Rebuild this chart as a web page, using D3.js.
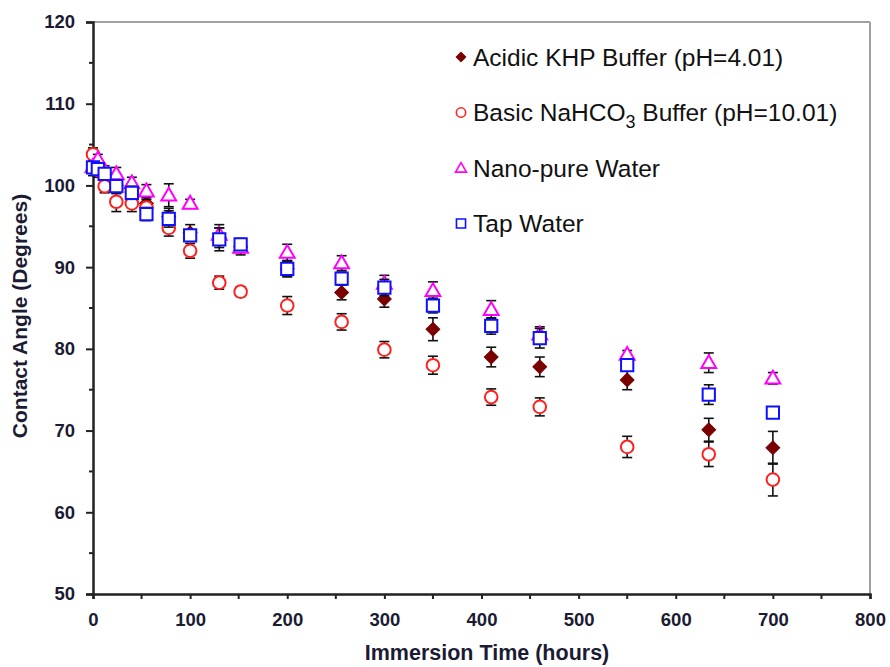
<!DOCTYPE html>
<html>
<head>
<meta charset="utf-8">
<script src="https://cdn.jsdelivr.net/npm/d3@7"></script>
<style>
  html, body { margin: 0; padding: 0; background: #fff; }
  svg { display: block; font-family: "Liberation Sans", Arial, sans-serif; }
</style>
</head>
<body>
<svg id="chart" width="890" height="667"></svg>
<script>
// ---------------- data ----------------
const seriesNames = ["Acidic KHP Buffer (pH=4.01)", "Basic NaHCO3 Buffer (pH=10.01)", "Nano-pure Water", "Tap Water"];

const acidicTimes  = [0, 5, 12, 24, 40, 55, 78, 100, 130, 152, 200, 256, 300, 350, 410, 460, 550, 634, 700];
const acidicValues = [102.0, 101.8, 101.2, 100.0, 99.2, 97.8, 96.2, 94.2, 93.6, 92.5, 89.8, 86.9, 86.1, 82.4, 79.0, 77.8, 76.2, 70.1, 67.9];
const acidicErrors = [0.8, 0.8, 0.9, 1.0, 1.0, 1.2, 1.0, 1.0, 1.2, 1.0, 1.0, 0.9, 1.0, 1.4, 1.2, 1.2, 1.2, 1.4, 2.0];

const basicTimes  = [0, 12, 24, 40, 55, 78, 100, 130, 152, 200, 256, 300, 350, 410, 460, 550, 634, 700];
const basicValues = [103.8, 99.9, 98.0, 97.8, 97.3, 94.8, 92.0, 88.1, 87.0, 85.3, 83.3, 79.9, 78.0, 74.1, 72.9, 68.0, 67.1, 64.0];
const basicErrors = [0.8, 0.8, 1.2, 1.0, 1.0, 1.0, 0.9, 0.8, 0.6, 1.1, 1.0, 1.0, 1.1, 1.0, 1.1, 1.3, 1.5, 2.0];

const nanoTimes  = [0, 5, 12, 24, 40, 55, 78, 100, 130, 152, 200, 256, 300, 350, 410, 460, 550, 634, 700];
const nanoValues = [102.3, 103.2, 101.8, 101.4, 100.3, 99.3, 98.8, 97.8, 94.0, 92.4, 91.8, 90.5, 88.0, 87.1, 84.8, 81.8, 79.3, 78.3, 76.4];
const nanoErrors = [0.6, 0.6, 0.6, 0.8, 0.7, 0.8, 1.4, 0.5, 1.2, 0.6, 1.0, 0.9, 1.0, 1.1, 1.1, 0.9, 0.5, 1.2, 0.7];

const tapTimes  = [0, 5, 12, 24, 40, 55, 78, 100, 130, 152, 200, 256, 300, 350, 410, 460, 550, 634, 700];
const tapValues = [102.2, 102.0, 101.4, 99.9, 99.1, 96.5, 95.9, 93.9, 93.4, 92.8, 89.8, 88.6, 87.5, 85.3, 82.8, 81.3, 78.0, 74.4, 72.2];
const tapErrors = [0.5, 0.5, 0.6, 0.8, 0.8, 0.8, 1.0, 0.6, 1.4, 0.6, 0.9, 0.8, 1.0, 0.9, 1.0, 1.2, 0.5, 1.2, 0.4];

const xTickValues = [0, 100, 200, 300, 400, 500, 600, 700, 800];
const xMinorTicks = [50, 150, 250, 350, 450, 550, 650, 750];
const yTickValues = [50, 60, 70, 80, 90, 100, 110, 120];
const yMinorTicks = [55, 65, 75, 85, 95, 105, 115];

const xTitle = "Immersion Time (hours)";
const yTitle = "Contact Angle (Degrees)";

// ---------------- layout ----------------
const W = 890, H = 667;
const margin = { left: 93, top: 22, right: 20, bottom: 73 };
const svg = d3.select("#chart");

const x = d3.scaleLinear().domain([0, 800]).range([margin.left, W - margin.right]);
const y = d3.scaleLinear().domain([50, 120]).range([H - margin.bottom, margin.top]);

const tickColor = "#1b1b33";

// plot-area border (top & right grey)
svg.append("line").attr("x1", x(0)).attr("x2", x(800)).attr("y1", y(120)).attr("y2", y(120))
  .attr("stroke", "#a0a0a0").attr("stroke-width", 2);
svg.append("line").attr("x1", x(800)).attr("x2", x(800)).attr("y1", y(120)).attr("y2", y(50))
  .attr("stroke", "#a0a0a0").attr("stroke-width", 2);

// y axis
const yAxis = d3.axisLeft(y).tickValues(yTickValues).tickSize(7).tickPadding(11).tickFormat(d3.format("d"));
const gy = svg.append("g").attr("transform", `translate(${x(0)},0)`).call(yAxis);
gy.select(".domain").attr("stroke", "#222").attr("stroke-width", 2.5);
gy.selectAll(".tick line").attr("stroke", "#222").attr("stroke-width", 2);
gy.selectAll(".tick text").attr("fill", tickColor).attr("font-size", 18.5).attr("font-weight", "bold")
  .attr("font-family", "Liberation Sans, Arial, sans-serif");
svg.append("g").selectAll("line").data(yMinorTicks).join("line")
  .attr("x1", x(0) - 4).attr("x2", x(0)).attr("y1", d => y(d)).attr("y2", d => y(d))
  .attr("stroke", "#222").attr("stroke-width", 2);

// x axis
const xAxis = d3.axisBottom(x).tickValues(xTickValues).tickSize(5).tickPadding(14).tickFormat(d3.format("d"));
const gx = svg.append("g").attr("transform", `translate(0,${y(50)})`).call(xAxis);
gx.select(".domain").attr("stroke", "#222").attr("stroke-width", 2.5);
gx.selectAll(".tick line").attr("stroke", "#222").attr("stroke-width", 2);
gx.selectAll(".tick text").attr("fill", tickColor).attr("font-size", 18.5).attr("font-weight", "bold")
  .attr("font-family", "Liberation Sans, Arial, sans-serif");
svg.append("g").selectAll("line").data(xMinorTicks).join("line")
  .attr("x1", d => x(d)).attr("x2", d => x(d)).attr("y1", y(50)).attr("y2", y(50) + 5)
  .attr("stroke", "#222").attr("stroke-width", 2);

// titles
svg.append("text").attr("x", 487).attr("y", 660).attr("text-anchor", "middle")
  .attr("font-size", 21.5).attr("font-weight", "bold").attr("fill", tickColor).text(xTitle);
svg.append("text").attr("transform", "translate(27,316) rotate(-90)").attr("text-anchor", "middle")
  .attr("font-size", 21).attr("font-weight", "bold").attr("fill", tickColor).text(yTitle);

// ---------------- series ----------------
const series = [
  { name: seriesNames[0], times: acidicTimes, values: acidicValues, errors: acidicErrors,
    symbol: d3.symbolSquare, size: 95, rotate: 45, stroke: "#7a0000", fill: "#7a0000", sw: 1 },
  { name: seriesNames[1], times: basicTimes, values: basicValues, errors: basicErrors,
    symbol: d3.symbolCircle, size: 125, rotate: 0, stroke: "#ff2020", fill: "#fff", sw: 2 },
  { name: seriesNames[2], times: nanoTimes, values: nanoValues, errors: nanoErrors,
    symbol: d3.symbolTriangle, size: 95, rotate: 0, stroke: "#ff00ff", fill: "#fff", sw: 2 },
  { name: seriesNames[3], times: tapTimes, values: tapValues, errors: tapErrors,
    symbol: d3.symbolSquare, size: 150, rotate: 0, stroke: "#1010ff", fill: "#fff", sw: 2 }
];

series.forEach(s => {
  const pts = s.times.map((t, i) => ({ t, v: s.values[i], e: s.errors[i] }));
  const g = svg.append("g");
  const eb = g.append("g").attr("stroke", "#111").attr("stroke-width", 1.6);
  eb.selectAll("line.v").data(pts).join("line").attr("class", "v")
    .attr("x1", d => x(d.t)).attr("x2", d => x(d.t))
    .attr("y1", d => y(d.v - d.e)).attr("y2", d => y(d.v + d.e));
  eb.selectAll("line.top").data(pts).join("line").attr("class", "top")
    .attr("x1", d => x(d.t) - 5).attr("x2", d => x(d.t) + 5)
    .attr("y1", d => y(d.v + d.e)).attr("y2", d => y(d.v + d.e));
  eb.selectAll("line.bot").data(pts).join("line").attr("class", "bot")
    .attr("x1", d => x(d.t) - 5).attr("x2", d => x(d.t) + 5)
    .attr("y1", d => y(d.v - d.e)).attr("y2", d => y(d.v - d.e));
  const sym = d3.symbol().type(s.symbol).size(s.size);
  g.selectAll("path.m").data(pts).join("path").attr("class", "m")
    .attr("d", sym)
    .attr("transform", d => `translate(${x(d.t)},${y(d.v) + (s.symbol === d3.symbolTriangle ? 1 : 0)}) rotate(${s.rotate})`)
    .attr("fill", s.fill).attr("stroke", s.stroke).attr("stroke-width", s.sw);
});

// ---------------- legend ----------------
const legend = svg.append("g");
const legY0 = 57, legDY = 55.5, legMX = 461, legTX = 473;
series.forEach((s, i) => {
  const cy = legY0 + i * legDY;
  legend.append("path")
    .attr("d", d3.symbol().type(s.symbol).size(s.size * 0.55))
    .attr("transform", `translate(${legMX},${cy + (s.symbol === d3.symbolTriangle ? 1 : 0)}) rotate(${s.rotate})`)
    .attr("fill", s.fill).attr("stroke", s.stroke).attr("stroke-width", s.sw * 0.8);
  const t = legend.append("text").attr("x", legTX).attr("y", cy + 8.5)
    .attr("font-size", 24.5).attr("fill", "#111");
  if (i === 1) {
    t.append("tspan").text("Basic NaHCO");
    t.append("tspan").attr("font-size", 18).attr("dy", 7).text("3");
    t.append("tspan").attr("dy", -7).text(" Buffer (pH=10.01)");
  } else {
    t.text(s.name);
  }
});
</script>
</body>
</html>
